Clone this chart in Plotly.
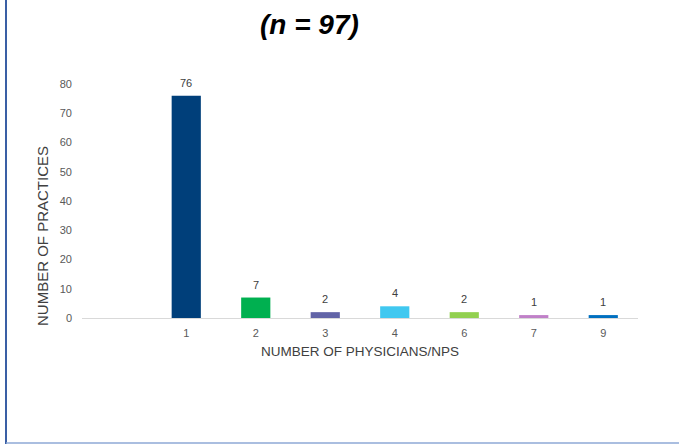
import plotly.graph_objects as go

categories = ["1", "2", "3", "4", "6", "7", "9"]
practices = [76, 7, 2, 4, 2, 1, 1]
bar_colors = ["#003F7A", "#00B050", "#6264A7", "#40C8F0", "#92D050", "#C080C8", "#0070C0"]

W, H = 679, 445
L, R, T, B = 82, 41, 84, 127
pw, ph = W - L - R, H - T - B

fig = go.Figure(go.Bar(
    x=categories, y=practices,
    marker=dict(color=bar_colors, line=dict(width=0)),
))

def px_x(p):
    return (p - L) / pw

def px_y(p):
    return (H - B - p) / ph

# category axis: annotation x is the category index
label_anns = [dict(
    x=i, y=v, xref="x", yref="y", text=str(v), showarrow=False,
    xanchor="center", yanchor="bottom", yshift=5,
    font=dict(family="Liberation Sans, Arial", size=11, color="#404040"),
) for i, v in enumerate(practices)]

fig.update_layout(
    width=W, height=H,
    margin=dict(l=L, r=R, t=T, b=B),
    paper_bgcolor="white", plot_bgcolor="white",
    bargap=0.58,
    showlegend=False,
    font=dict(family="Liberation Sans, Arial", color="#595959"),
    xaxis=dict(
        type="category", range=[-1.5, 6.5],
        showgrid=False, showline=True, linecolor="#D9D9D9", linewidth=1,
        ticks="", ticklabelstandoff=5, tickfont=dict(size=11, color="#595959"),
        title=dict(text="NUMBER OF PHYSICIANS/NPS", font=dict(size=13.5, color="#404040"), standoff=8),
    ),
    yaxis=dict(
        range=[0, 80], dtick=10, showgrid=False, zeroline=False, showline=False,
        ticks="", ticklabelstandoff=9, tickfont=dict(size=11, color="#595959"),
    ),
    annotations=label_anns + [
        dict(
            text="<b><i>(n = 97)</i></b>", xref="paper", yref="paper",
            x=px_x(309), y=px_y(24), showarrow=False,
            font=dict(family="Liberation Sans, Arial", size=28, color="#000000"),
            xanchor="center", yanchor="middle",
        ),
        dict(
            text="NUMBER OF PRACTICES", xref="paper", yref="paper",
            x=px_x(42), y=px_y(236), showarrow=False, textangle=-90,
            font=dict(family="Liberation Sans, Arial", size=15, color="#404040"),
            xanchor="center", yanchor="middle",
        ),
    ],
    shapes=[
        dict(type="line", xref="paper", yref="paper",
             x0=px_x(6), x1=px_x(6), y0=px_y(0), y1=px_y(444),
             line=dict(color="#3A5FA5", width=2)),
        dict(type="line", xref="paper", yref="paper",
             x0=px_x(6), x1=px_x(679), y0=px_y(443), y1=px_y(443),
             line=dict(color="#8EA9D6", width=1.5)),
    ],
)

fig.write_html("out.html")
